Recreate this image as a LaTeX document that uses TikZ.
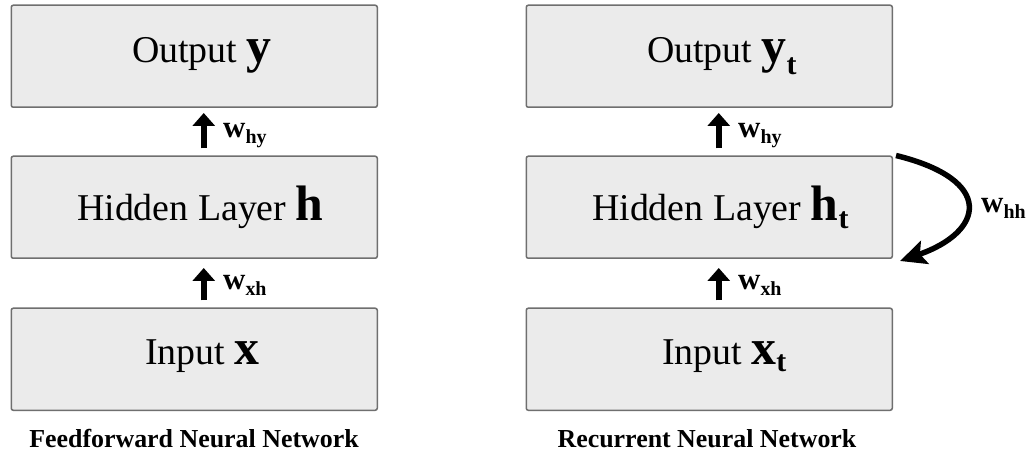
\documentclass[tikz,border=0pt]{standalone}
\usepackage{fontspec}
\setmainfont{Liberation Serif}
\usetikzlibrary{arrows.meta,calc}
\definecolor{boxfill}{HTML}{EBEBEB}
\definecolor{boxline}{HTML}{6F6F6F}
\newcommand\bsz[2]{{\fontsize{#1}{#1}\selectfont\bfseries #2}}
\tikzset{
 layer/.style={draw=boxline, fill=boxfill, line width=1.5bp, rounded corners=2bp,
   minimum width=366bp, minimum height=102bp, inner sep=0pt, anchor=north west},
 boxtext/.style={anchor=base west, inner sep=0pt, font=\fontsize{38}{38}\selectfont},
 uparrow/.style={line width=6bp, -{Triangle[length=13bp,width=22bp]}},
 wlabel/.style={anchor=base west, inner sep=0pt},
 caption/.style={anchor=base, inner sep=0pt, font=\fontsize{26}{26}\selectfont\bfseries},
 looparrow/.style={line width=5.5bp, -{Stealth[length=26bp,width=24bp,inset=5bp]}},
}
\newcommand\wlab[1]{\bsz{31}{w}\raisebox{-6bp}{\bsz{20}{#1}}}
\begin{document}
\begin{tikzpicture}[x=1bp,y=-1bp]
\useasboundingbox (0,0) rectangle (1031,454);
\fill[white] (0,0) rectangle (1031,454);
% left column
\node[layer] (lout) at (10.5,4.5) {};
\node[layer] (lhid) at (10.5,155.5) {};
\node[layer] (lin) at (10.5,307.5) {};
\node[boxtext] (loutt) at (132,63) {Output \bsz{50}{y}};
\node[boxtext] (lhidt) at (77,221) {Hidden Layer \bsz{50}{h}};
\node[boxtext] (lint) at (145,365) {Input \bsz{50}{x}};
\draw[uparrow] ([xshift=9.5bp,yshift=7bp]lhid.north) -- ([xshift=9.5bp,yshift=-5bp]lout.south);
\draw[uparrow] ([xshift=9.5bp,yshift=7bp]lin.north) -- ([xshift=9.5bp,yshift=-9bp]lhid.south);
\node[wlabel] (lwhy) at (223,138) {\wlab{hy}};
\node[wlabel] (lwxh) at (223,290) {\wlab{xh}};
\node[caption] (lcap) at (194,447) {Feedforward Neural Network};
% right column
\node[layer] (rout) at (525.5,4.5) {};
\node[layer] (rhid) at (525.5,155.5) {};
\node[layer] (rin) at (525.5,307.5) {};
\node[boxtext] (routt) at (647,63) {Output \bsz{50}{y}\raisebox{-12bp}{\bsz{30}{t}}};
\node[boxtext] (rhidt) at (592,221) {Hidden Layer \bsz{50}{h}\raisebox{-8bp}{\bsz{30}{t}}};
\node[boxtext] (rint) at (662,365) {Input \bsz{50}{x}\raisebox{-7bp}{\bsz{30}{t}}};
\draw[uparrow] ([xshift=9.5bp,yshift=7bp]rhid.north) -- ([xshift=9.5bp,yshift=-5bp]rout.south);
\draw[uparrow] ([xshift=9.5bp,yshift=7bp]rin.north) -- ([xshift=9.5bp,yshift=-9bp]rhid.south);
\node[wlabel] (rwhy) at (738,138) {\wlab{hy}};
\node[wlabel] (rwxh) at (738,290) {\wlab{xh}};
\draw[looparrow] ([xshift=3bp]rhid.north east) .. controls (996,180) and (984,232) .. ([xshift=7bp,yshift=-2bp]rhid.south east);
\node[wlabel] (rwhh) at (981,213) {\wlab{hh}};
\node[caption] (rcap) at (707,447) {Recurrent Neural Network};
\end{tikzpicture}
\end{document}
